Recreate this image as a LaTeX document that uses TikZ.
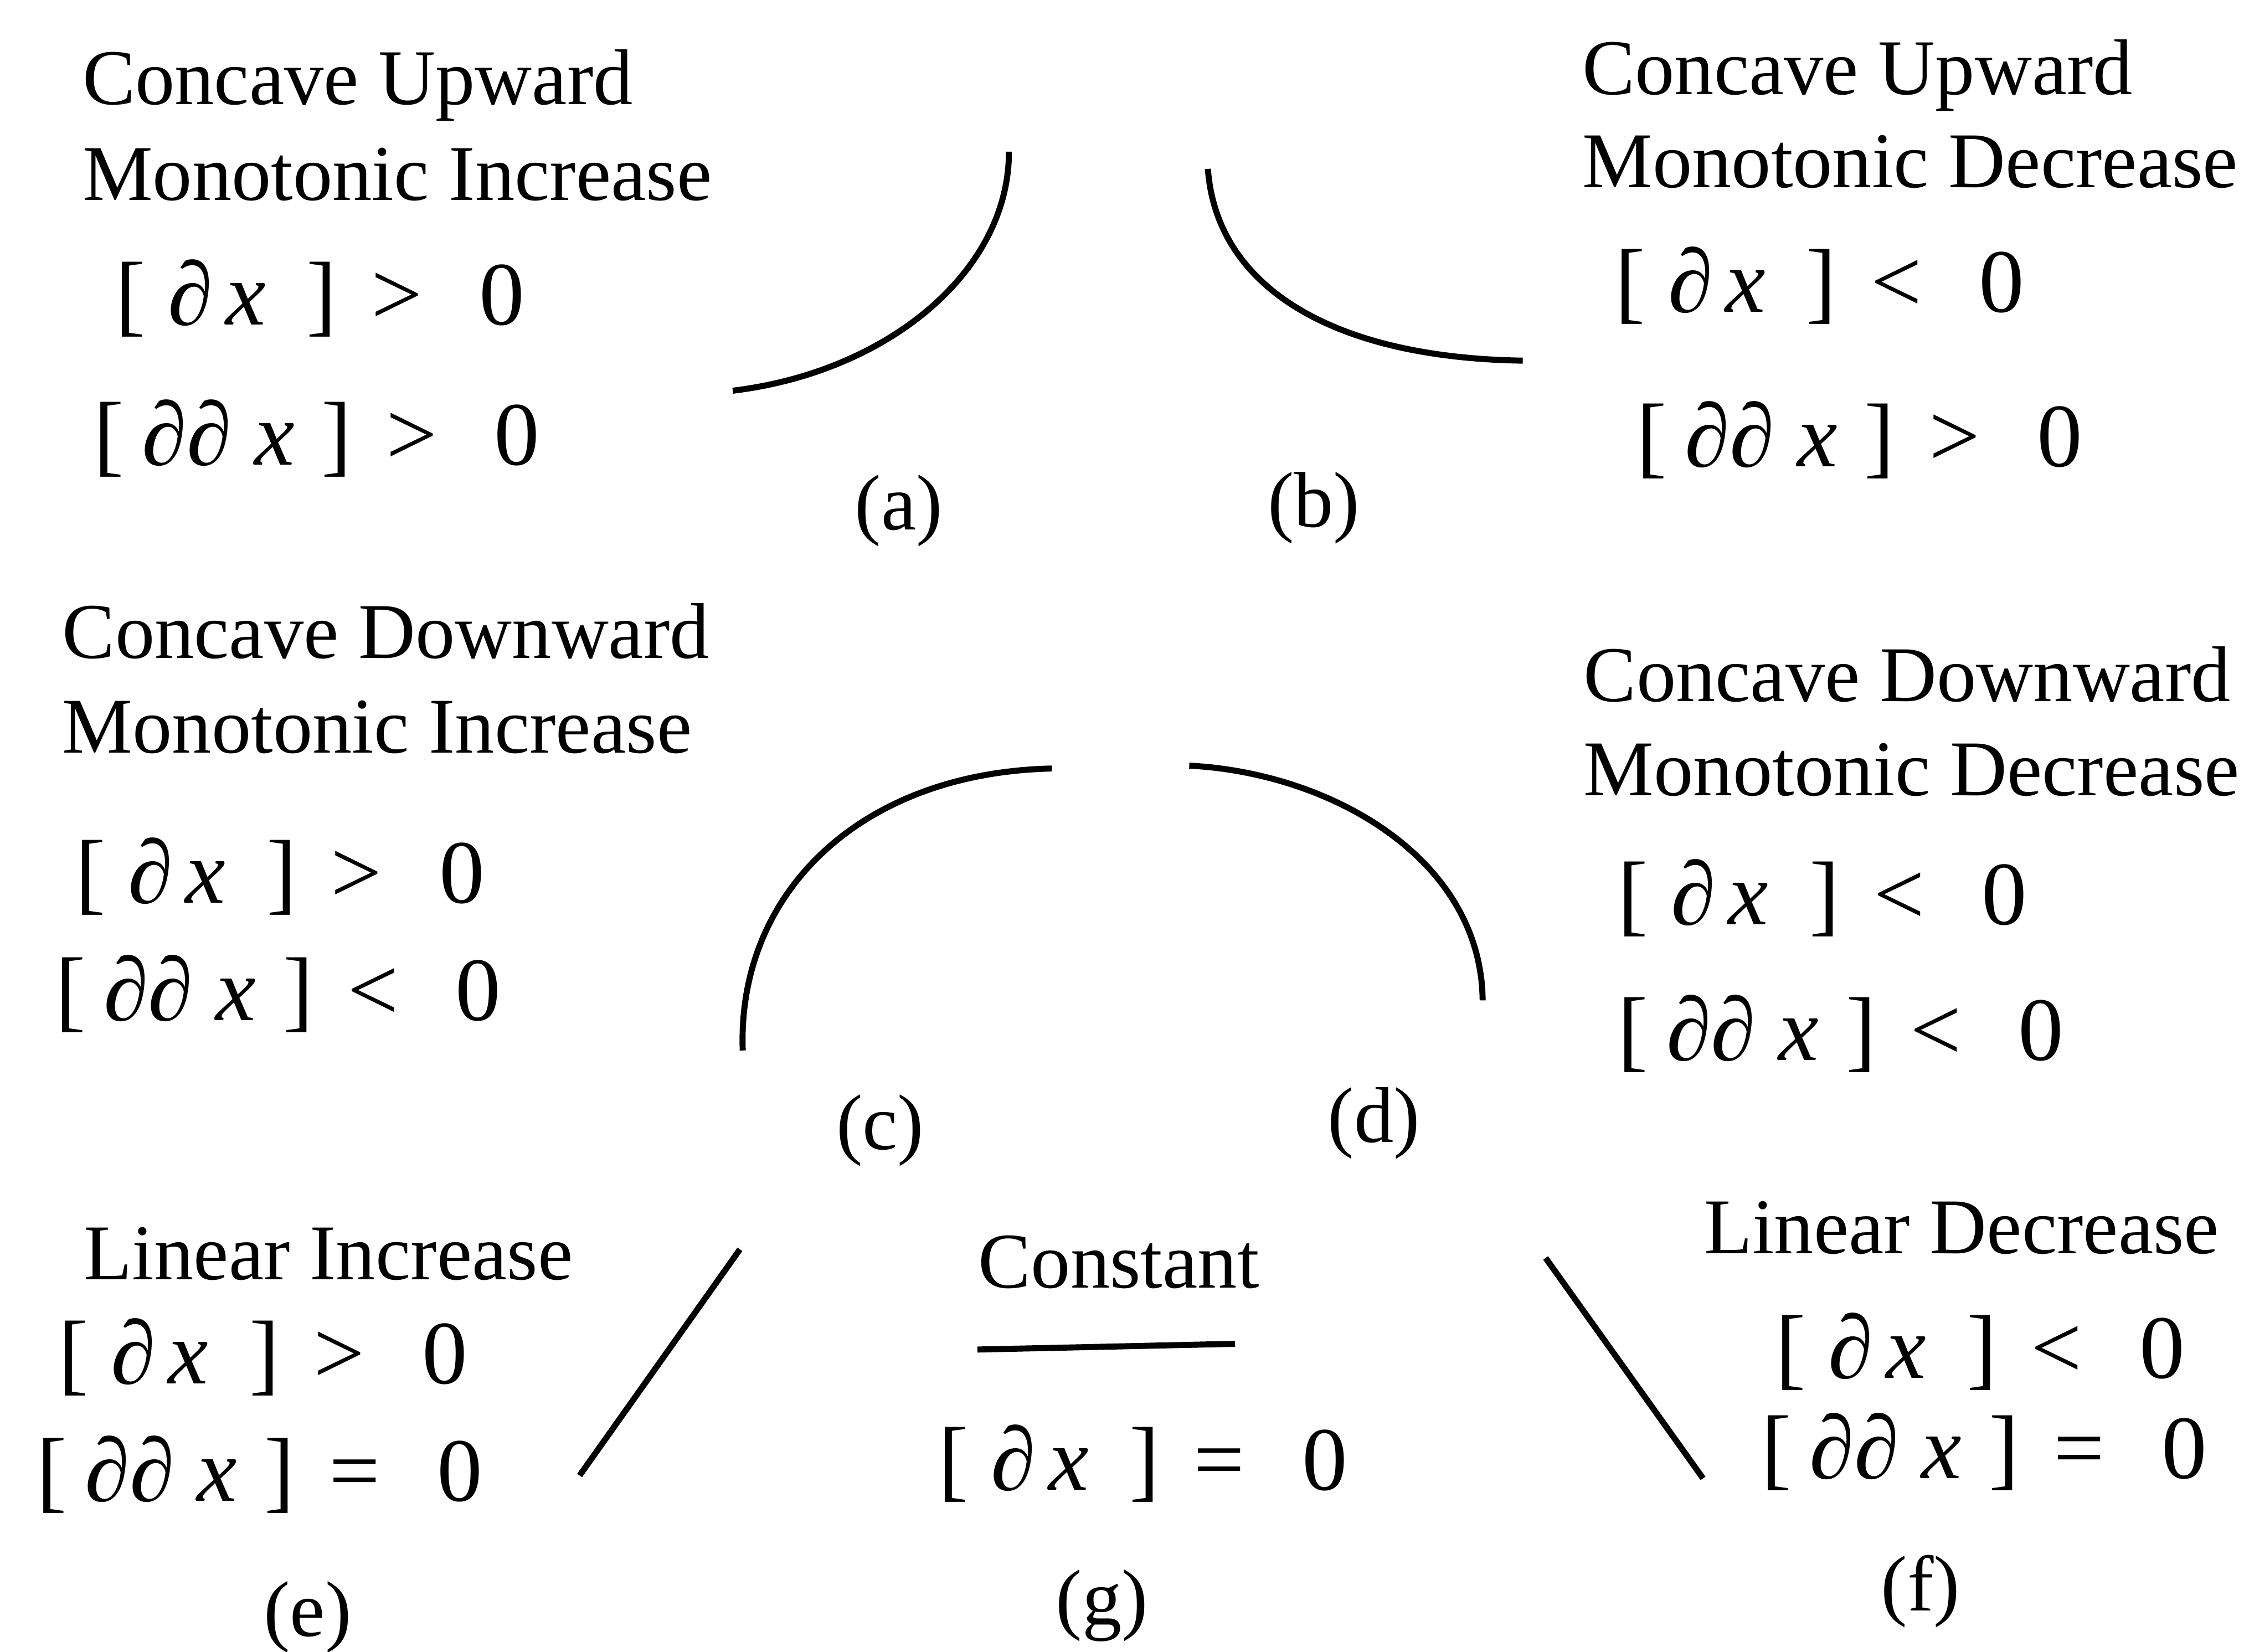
\documentclass[tikz,border=0pt]{standalone}
\usepackage{fontspec}
\setmainfont{Liberation Serif}
\newcommand{\dx}{[\hspace{.25em}\textit{∂}\hspace{.14em}\textit{x}\hspace{.45em}]}
\newcommand{\ddx}{[\hspace{.2em}\textit{∂∂}\hspace{.25em}\textit{x}\hspace{.3em}]}
\newcommand{\rel}[1]{\hspace{.38em}#1\hspace{.63em}0}
\begin{document}
\begin{tikzpicture}[x=0.1mm, y=-0.1mm,
    txt/.style={anchor=base west, inner sep=0pt, font=\fontsize{15.7}{18}\selectfont},
    eqn/.style={txt, font=\fontsize{18}{20}\selectfont},
    tag/.style={inner sep=0pt, font=\fontsize{15.7}{18}\selectfont},
    curve/.style={line width=1.2pt}]
\useasboundingbox (0,0) rectangle (1568,1154);
% (a) concave upward, increasing
\node[txt] (cua) at (57,73) {Concave Upward};
\node[txt] (mia) at (57,140) {Monotonic Increase};
\node[eqn] (d1a) at (80,227) {\dx\rel{>}};
\node[eqn] (d2a) at (65,325) {\ddx\rel{>}};
\draw[curve] (512,273) .. controls (620,260) and (705,190) .. (705,106);
\node[tag] (ta) at (628,357) {(a)};
% (b) concave upward, decreasing
\node[txt] (cub) at (1105,66) {Concave Upward};
\node[txt] (mdb) at (1105,131) {Monotonic Decrease};
\node[eqn] (d1b) at (1128,218) {\dx\rel{<}};
\node[eqn] (d2b) at (1143,326) {\ddx\rel{>}};
\draw[curve] (844,118) .. controls (850,200) and (930,250) .. (1064,252);
\node[tag] (tb) at (918,355) {(b)};
% (c) concave downward, increasing
\node[txt] (cdc) at (43,460) {Concave Downward};
\node[txt] (mic) at (43,526) {Monotonic Increase};
\node[eqn] (d1c) at (52,631) {\dx\rel{>}};
\node[eqn] (d2c) at (38,713) {\ddx\rel{<}};
\draw[curve] (519,734) .. controls (515,625) and (600,540) .. (735,537);
\node[tag] (tc) at (615,790) {(c)};
% (d) concave downward, decreasing
\node[txt] (cdd) at (1106,490) {Concave Downward};
\node[txt] (mdd) at (1106,556) {Monotonic Decrease};
\node[eqn] (d1d) at (1130,646) {\dx\rel{<}};
\node[eqn] (d2d) at (1130,741) {\ddx\rel{<}};
\draw[curve] (831,535) .. controls (930,540) and (1035,600) .. (1036,699);
\node[tag] (td) at (960,785) {(d)};
% (e) linear increase
\node[txt] (lie) at (58,894) {Linear Increase};
\node[eqn] (d1e) at (40,967) {\dx\rel{>}};
\node[eqn] (d2e) at (25,1049) {\ddx\rel{=}};
\draw[curve] (517,873) -- (405,1031);
\node[tag] (te) at (215,1130) {(e)};
% (g) constant
\node[txt] (cog) at (683,900) {Constant};
\node[eqn] (d1g) at (655,1041) {\dx\rel{=}};
\draw[curve] (683,943) -- (863,939);
\node[tag] (tg) at (770,1122) {(g)};
% (f) linear decrease
\node[txt] (ldf) at (1190,876) {Linear Decrease};
\node[eqn] (d1f) at (1240,963) {\dx\rel{<}};
\node[eqn] (d2f) at (1230,1033) {\ddx\rel{=}};
\draw[curve] (1080,879) -- (1190,1033);
\node[tag] (tf) at (1342,1112) {(f)};
\end{tikzpicture}
\end{document}
